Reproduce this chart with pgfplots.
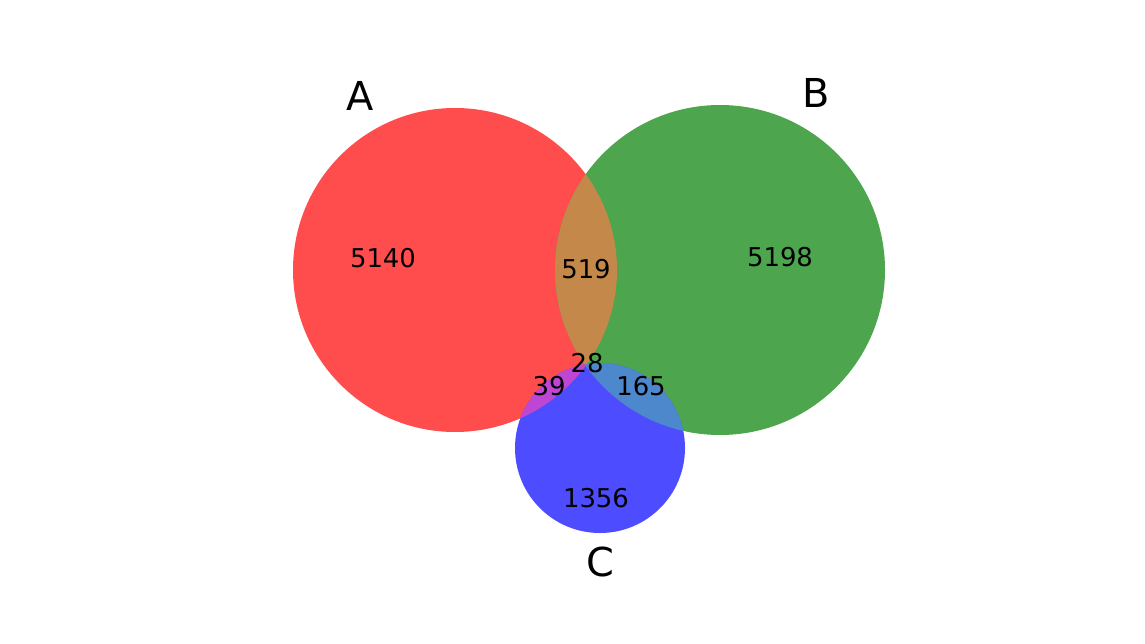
\documentclass[border=0pt]{standalone}
\usepackage{pgfplots}
\pgfplotsset{compat=1.18}
\usepackage{fontspec}
\setmainfont{DejaVu Sans}
\definecolor{cA}{RGB}{255,77,77}
\definecolor{cB}{RGB}{77,166,77}
\definecolor{cC}{RGB}{77,77,255}
\definecolor{cAB}{RGB}{196,136,74}
\definecolor{cAC}{RGB}{190,70,210}
\definecolor{cBC}{RGB}{77,136,204}
\definecolor{cABC}{RGB}{150,110,150}
\begin{document}
\begin{tikzpicture}
\begin{axis}[width=1145bp,height=644bp,scale only axis,hide axis,
  xmin=0,xmax=1145,ymin=0,ymax=644,y dir=reverse,clip=false]
\path (axis cs:0,0) rectangle (axis cs:1145,644);
\def\A{(axis cs:455,270) circle [radius=162]}
\def\B{(axis cs:720,270) circle [radius=165]}
\def\C{(axis cs:600,448) circle [radius=85]}
\fill[cA] \A;
\fill[cB] \B;
\fill[cC] \C;
\begin{scope}\clip \A; \fill[cAB] \B; \fill[cAC] \C; \end{scope}
\begin{scope}\clip \B; \fill[cBC] \C; \end{scope}
\begin{scope}\clip \A; \clip \B; \fill[cABC] \C; \end{scope}
\addplot[only marks,mark=none,
  nodes near coords,point meta=explicit symbolic,
  nodes near coords style={anchor=center,font=\fontsize{26}{30}\selectfont}]
  table[meta=l]{
x y l
383 258 5140
586 269 519
780 257 5198
587 363 28
549 386 39
641 386 165
596 498 1356
};
\addplot[only marks,mark=none,
  nodes near coords,point meta=explicit symbolic,
  nodes near coords style={anchor=center,font=\fontsize{40}{46}\selectfont}]
  table[meta=l]{
x y l
360 96 A
816 93 B
600 562 C
};
\end{axis}
\end{tikzpicture}
\end{document}
